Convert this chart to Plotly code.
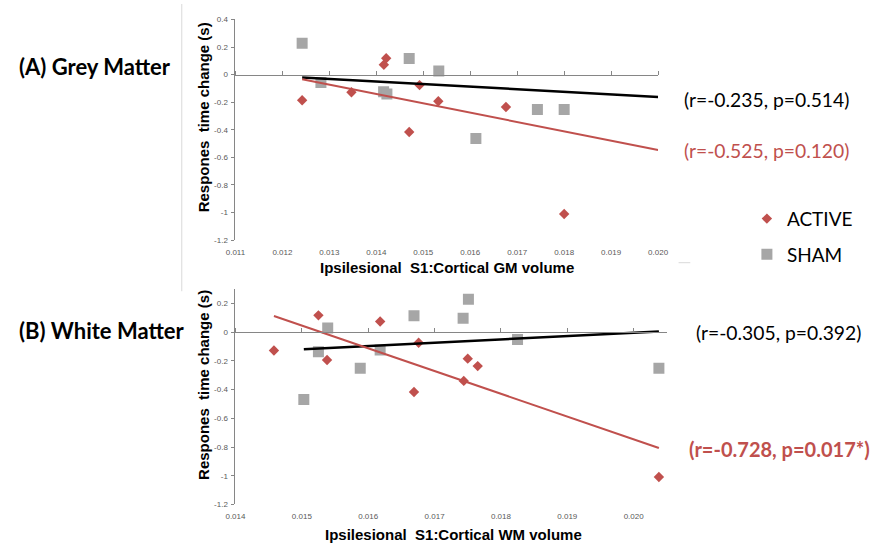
import plotly.graph_objects as go

W, H = 876, 550

# ---------------- data ----------------
gm_active_x = [0.01242, 0.01347, 0.01416, 0.01421, 0.01470, 0.01492, 0.01532, 0.01676, 0.01800]
gm_active_y = [-0.186, -0.128, 0.071, 0.119, -0.416, -0.076, -0.193, -0.235, -1.011]
gm_sham_x = [0.01242, 0.01282, 0.014155, 0.014225, 0.01470, 0.01533, 0.01612, 0.01743, 0.01800]
gm_sham_y = [0.228, -0.057, -0.124, -0.140, 0.117, 0.026, -0.464, -0.254, -0.254]
gm_sham_fit_x = [0.01242, 0.0200]
gm_sham_fit_y = [-0.021, -0.162]
gm_active_fit_x = [0.01242, 0.0200]
gm_active_fit_y = [-0.033, -0.547]

wm_active_x = [0.01458, 0.01525, 0.01538, 0.01618, 0.01669, 0.01676, 0.01744, 0.01750, 0.01765, 0.02038]
wm_active_y = [-0.127, 0.118, -0.193, 0.075, -0.416, -0.073, -0.339, -0.184, -0.236, -1.009]
wm_sham_x = [0.01503, 0.01525, 0.01539, 0.01588, 0.01618, 0.01669, 0.01743, 0.01751, 0.01825, 0.02038]
wm_sham_y = [-0.468, -0.136, 0.030, -0.250, -0.123, 0.116, 0.098, 0.230, -0.050, -0.250]
wm_sham_fit_x = [0.01503, 0.02038]
wm_sham_fit_y = [-0.118, 0.005]
wm_active_fit_x = [0.01458, 0.02038]
wm_active_fit_y = [0.114, -0.807]

gm_x_ticks = [0.011, 0.012, 0.013, 0.014, 0.015, 0.016, 0.017, 0.018, 0.019, 0.020]
gm_x_labels = ["0.011", "0.012", "0.013", "0.014", "0.015", "0.016", "0.017", "0.018", "0.019", "0.020"]
wm_x_ticks = [0.014, 0.015, 0.016, 0.017, 0.018, 0.019, 0.020]
wm_x_labels = ["0.014", "0.015", "0.016", "0.017", "0.018", "0.019", "0.020"]
gm_y_ticks = [0.4, 0.2, 0, -0.2, -0.4, -0.6, -0.8, -1.0, -1.2]
gm_y_labels = ["0.4", "0.2", "0", "-0.2", "-0.4", "-0.6", "-0.8", "-1", "-1.2"]
wm_y_ticks = [0.2, 0, -0.2, -0.4, -0.6, -0.8, -1.0, -1.2]
wm_y_labels = ["0.2", "0", "-0.2", "-0.4", "-0.6", "-0.8", "-1", "-1.2"]

gm_x_range = [0.011, 0.020]
gm_y_range = [-1.2, 0.4]
wm_x_range = [0.014, 0.0205]
wm_y_range = [-1.2, 0.3]

series_names = ["ACTIVE", "SHAM"]
stats_gm = ["(r=-0.235, p=0.514)", "(r=-0.525, p=0.120)"]
stats_wm = ["(r=-0.305, p=0.392)", "(r=-0.728, p=0.017*)"]

# ---------------- styles ----------------
RED = "#c0504d"
GREY = "#a6a6a6"
AX = "#868686"
TICKFONT = dict(family="Liberation Sans, Arial, sans-serif", size=8, color="#595959")
TITLEFONT = dict(family="Liberation Sans, Arial, sans-serif", size=15, color="#000000", weight="bold")
CAL = "Lato, Carlito, Calibri, sans-serif"


def px(x):
    return x / W


def py(y):
    return 1 - y / H


gm_xdom = [px(231), px(664)]
gm_ydom = [py(240), py(15.7)]
wm_xdom = [px(231), px(673)]
wm_ydom = [py(508.7), py(290)]


def zero_pos(dom, rng):
    return dom[0] + (0 - rng[0]) / (rng[1] - rng[0]) * (dom[1] - dom[0])


fig = go.Figure()

# top panel (grey matter)
fig.add_trace(go.Scatter(x=gm_active_x, y=gm_active_y, mode="markers", name=series_names[0],
                         legendgroup="a", marker=dict(symbol="diamond", size=8, color=RED),
                         xaxis="x", yaxis="y"))
fig.add_trace(go.Scatter(x=gm_sham_x, y=gm_sham_y, mode="markers", name=series_names[1],
                         legendgroup="s", marker=dict(symbol="square", size=11, color=GREY),
                         xaxis="x", yaxis="y"))
fig.add_trace(go.Scatter(x=gm_sham_fit_x, y=gm_sham_fit_y, mode="lines", showlegend=False,
                         line=dict(color="#000000", width=2.5), xaxis="x", yaxis="y"))
fig.add_trace(go.Scatter(x=gm_active_fit_x, y=gm_active_fit_y, mode="lines", showlegend=False,
                         line=dict(color=RED, width=2), xaxis="x", yaxis="y"))
fig.add_trace(go.Scatter(x=[gm_x_range[0]], y=[0], mode="none",
                         showlegend=False, hoverinfo="skip", xaxis="x3", yaxis="y"))

# bottom panel (white matter)
fig.add_trace(go.Scatter(x=wm_active_x, y=wm_active_y, mode="markers", name=series_names[0],
                         showlegend=False, marker=dict(symbol="diamond", size=8, color=RED),
                         xaxis="x2", yaxis="y2"))
fig.add_trace(go.Scatter(x=wm_sham_x, y=wm_sham_y, mode="markers", name=series_names[1],
                         showlegend=False, marker=dict(symbol="square", size=11, color=GREY),
                         xaxis="x2", yaxis="y2"))
fig.add_trace(go.Scatter(x=wm_sham_fit_x, y=wm_sham_fit_y, mode="lines", showlegend=False,
                         line=dict(color="#000000", width=2.5), xaxis="x2", yaxis="y2"))
fig.add_trace(go.Scatter(x=wm_active_fit_x, y=wm_active_fit_y, mode="lines", showlegend=False,
                         line=dict(color=RED, width=2), xaxis="x2", yaxis="y2"))
fig.add_trace(go.Scatter(x=[wm_x_range[0]], y=[0], mode="none",
                         showlegend=False, hoverinfo="skip", xaxis="x4", yaxis="y2"))


def main_x(dom, rng, tv, tt, anchor):
    return dict(domain=dom, range=rng, anchor=anchor, showgrid=False, zeroline=False,
                showline=False, ticks="", tickvals=tv, ticktext=tt, tickfont=TICKFONT,
                ticklabelstandoff=6, fixedrange=True)


def zero_x(dom, rng, tv, ydom, yrng, over):
    return dict(domain=dom, range=rng, overlaying=over, anchor="free",
                position=zero_pos(ydom, yrng), side="top", showgrid=False, zeroline=False,
                showline=True, linecolor=AX, linewidth=1, ticks="outside", ticklen=4,
                tickcolor=AX, tickvals=tv, showticklabels=False)


def main_y(dom, rng, tv, tt, anchor):
    return dict(domain=dom, range=rng, anchor=anchor, showgrid=False, zeroline=False,
                showline=True, linecolor=AX, linewidth=1, ticks="outside", ticklen=3,
                tickcolor=AX, tickvals=tv, ticktext=tt, tickfont=TICKFONT,
                ticklabelstandoff=2)


annotations = [
    dict(text="(A) Grey Matter", x=px(7), y=py(64), xanchor="left", yanchor="middle",
         font=dict(family=CAL, size=22, color="#000000", weight="bold")),
    dict(text="(B) White Matter", x=px(7), y=py(332), xanchor="left", yanchor="middle",
         font=dict(family=CAL, size=22, color="#000000", weight="bold")),
    dict(text=stats_gm[0], x=px(689), y=py(97), xanchor="left", yanchor="middle",
         font=dict(family=CAL, size=19.3, color="#000000")),
    dict(text=stats_gm[1], x=px(689), y=py(149), xanchor="left", yanchor="middle",
         font=dict(family=CAL, size=19.3, color=RED)),
    dict(text=stats_wm[0], x=px(701), y=py(334), xanchor="left", yanchor="middle",
         font=dict(family=CAL, size=19.3, color="#000000")),
    dict(text=stats_wm[1], x=px(694), y=py(452), xanchor="left", yanchor="middle",
         font=dict(family=CAL, size=20, color=RED, weight="bold")),
    dict(text="Ipsilesional  S1:Cortical GM volume", x=px(448), y=py(268),
         xanchor="center", yanchor="middle", font=TITLEFONT),
    dict(text="Ipsilesional  S1:Cortical WM volume", x=px(454), y=py(539),
         xanchor="center", yanchor="middle", font=TITLEFONT),
    dict(text="Respones  time change (s)", x=px(198), y=py(115), textangle=-90,
         xanchor="center", yanchor="middle", font=TITLEFONT),
    dict(text="Respones  time change (s)", x=px(198), y=py(387), textangle=-90,
         xanchor="center", yanchor="middle", font=TITLEFONT),
]
for a in annotations:
    a.update(xref="paper", yref="paper", showarrow=False)

shapes = [
    dict(type="line", xref="paper", yref="paper", x0=px(176), x1=px(176), y0=1, y1=py(292),
         line=dict(color="#d9d9d9", width=1)),
    dict(type="line", xref="paper", yref="paper", x0=px(685), x1=px(697), y0=py(263), y1=py(263),
         line=dict(color="#d9d9d9", width=1)),
]

fig.update_layout(
    width=W, height=H, autosize=False,
    margin=dict(l=0, r=0, t=0, b=0),
    paper_bgcolor="white", plot_bgcolor="white",
    showlegend=True,
    legend=dict(x=px(755), y=py(199), xanchor="left", yanchor="top",
                font=dict(family=CAL, size=19, color="#000000"),
                tracegroupgap=8, traceorder="grouped", bgcolor="rgba(0,0,0,0)"),
    xaxis=main_x(gm_xdom, gm_x_range, gm_x_ticks, gm_x_labels, "y"),
    yaxis=main_y(gm_ydom, gm_y_range, gm_y_ticks, gm_y_labels, "x"),
    xaxis3=zero_x(gm_xdom, gm_x_range, gm_x_ticks, gm_ydom, gm_y_range, "x"),
    xaxis2=main_x(wm_xdom, wm_x_range, wm_x_ticks, wm_x_labels, "y2"),
    yaxis2=main_y(wm_ydom, wm_y_range, wm_y_ticks, wm_y_labels, "x2"),
    xaxis4=zero_x(wm_xdom, wm_x_range, wm_x_ticks, wm_ydom, wm_y_range, "x2"),
    annotations=annotations,
    shapes=shapes,
)

fig.write_html("out.html")
